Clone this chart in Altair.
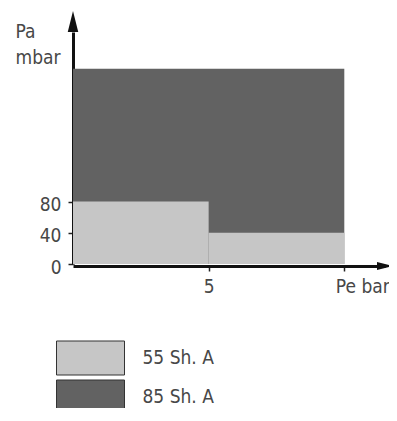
import altair as alt
import pandas as pd

# ---- data ----
series = ["85 Sh. A", "55 Sh. A", "55 Sh. A"]
pe_start = [0, 0, 5]
pe_end = [10, 5, 10]
pa_low = [0, 0, 0]
pa_high = [250, 80, 40]

legend_labels = ["55 Sh. A", "85 Sh. A"]
colors = ["#c6c6c6", "#626262"]

x_ticks = [5, 10]
y_ticks = [0, 40, 80]
x_axis_max = 11.5
y_axis_max = 297
x_title = "Pe bar"
y_title = ["Pa", "mbar"]

FONT = "DejaVu Sans Condensed, Liberation Sans Narrow, sans-serif"
TXT = "#474747"
FS = 19

df = pd.DataFrame({"series": series, "x": pe_start, "x2": pe_end,
                   "y": pa_low, "y2": pa_high})

xs = alt.Scale(domain=[0, x_axis_max], nice=False, zero=False)
ys = alt.Scale(domain=[0, y_axis_max], nice=False, zero=False)

last = x_ticks[-1]
x_axis = alt.Axis(
    values=x_ticks, title=None, grid=False,
    domainColor="#111", domainWidth=3, offset=2,
    tickColor="#222", tickWidth=1.5, tickSize=5,
    labelFont=FONT, labelFontSize=FS, labelColor=TXT, labelPadding=6,
    labelExpr=f"datum.value == {last} ? '{x_title}' : datum.label",
    labelAlign={"condition": {"test": f"datum.value == {last}", "value": "left"},
                "value": "center"},
    labelOffset={"condition": {"test": f"datum.value == {last}", "value": -9},
                 "value": 0},
    labelFlush=False, labelBound=False, labelOverlap=False,
)
y_axis = alt.Axis(
    values=y_ticks, title=y_title, grid=False,
    domainColor="#111", domainWidth=3,
    tickColor="#222", tickWidth=1.5, tickSize=5,
    labelFont=FONT, labelFontSize=FS, labelColor=TXT, labelPadding=7, labelOffset=3,
    labelFlush=False, labelBound=False, labelOverlap=False,
    titleAngle=0, titleAlign="left", titleBaseline="alphabetic",
    titleX=-58, titleY=5, titleFont=FONT, titleFontSize=FS,
    titleFontWeight="normal", titleColor=TXT, titleLineHeight=26,
)

X = alt.X("x:Q", scale=xs, axis=x_axis)
Y = alt.Y("y:Q", scale=ys, axis=y_axis)

rects = alt.Chart(df).mark_rect().encode(
    x=X, x2="x2:Q", y=Y, y2="y2:Q",
    color=alt.Color(
        "series:N",
        scale=alt.Scale(domain=legend_labels, range=colors),
        legend=alt.Legend(
            title=None, orient="none", legendX=-17, legendY=308.5,
            symbolType="M-2,-1H2V1H-2Z", symbolSize=1156, symbolOffset=17,
            symbolStrokeColor="#333", symbolStrokeWidth=1, symbolOpacity=1,
            labelFont=FONT, labelFontSize=FS, labelColor=TXT,
            labelOffset=34.5, rowPadding=0, padding=0, labelLimit=200,
        ),
    ),
)

y_arrow = alt.Chart(pd.DataFrame({"x": [0], "y": [y_axis_max]})).mark_point(
    filled=True, shape="M0,-2L0.5,0L-0.5,0Z", size=441, color="#111",
    opacity=1, strokeWidth=0,
).encode(x=X, y=Y)

x_arrow = alt.Chart(pd.DataFrame({"x": [x_axis_max], "y": [0]})).mark_point(
    filled=True, shape="M1,0.25L-1,-0.25L-1,0.75Z", size=256, color="#111",
    opacity=1, strokeWidth=0,
).encode(x=X, y=Y)

chart = alt.layer(rects, y_arrow, x_arrow).properties(
    width=312, height=232,
    padding={"left": 65, "top": 24, "right": 4, "bottom": 144},
    autosize=alt.AutoSizeParams(type="none"),
    background="white",
).configure_view(stroke=None)

chart.save("out.html", embed_options={"renderer": "svg", "actions": False})
